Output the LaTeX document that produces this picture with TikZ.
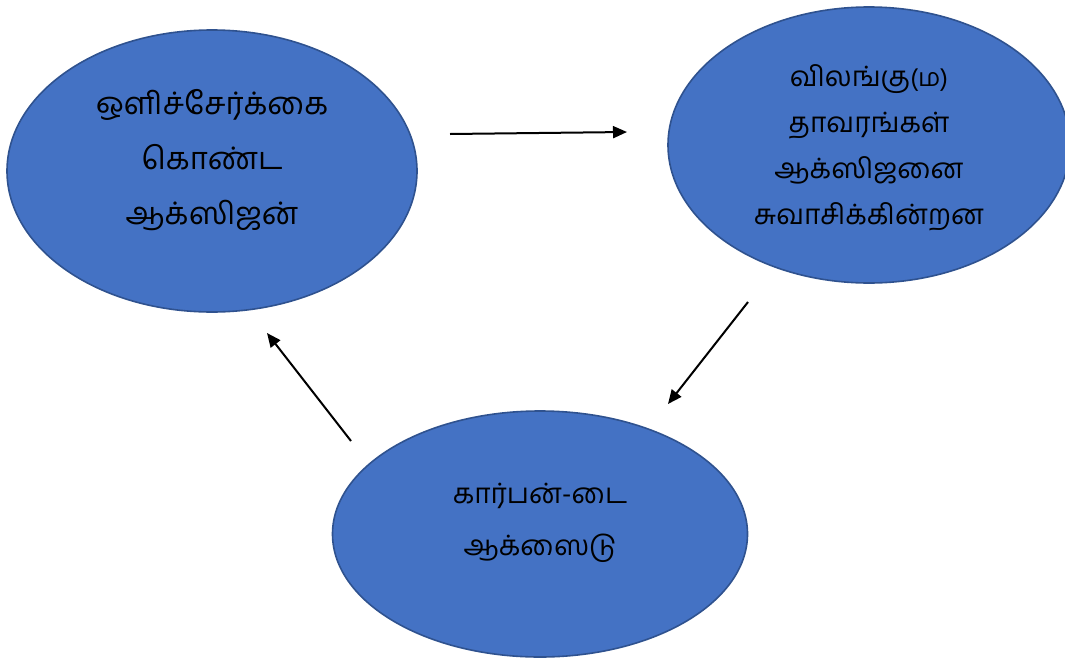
\documentclass[tikz,border=0pt]{standalone}
\usepackage{fontspec}
\newfontfamily\tamil[Script=Tamil]{Hind Madurai}
\usetikzlibrary{shapes.geometric,arrows.meta}
\definecolor{blobfill}{HTML}{4472C4}
\definecolor{blobedge}{HTML}{2F528F}
\tikzset{
  blob/.style={ellipse, draw=blobedge, line width=1.6pt, fill=blobfill, inner sep=0pt},
  label/.style 2 args={font=\tamil\fontsize{#1}{#2}\selectfont, align=center, text=black, inner sep=0pt},
  flow/.style={-{Triangle[length=14pt,width=12pt]}, line width=2pt, black}
}
\begin{document}
\begin{tikzpicture}[x=1pt,y=-1pt]
  \useasboundingbox (0,0) rectangle (1065,659);
  % the three stages of the cycle
  \node[blob, minimum width=410pt, minimum height=282pt] (photo) at (212,171) {};
  \node[blob, minimum width=402pt, minimum height=276pt] (breath) at (869,145) {};
  \node[blob, minimum width=415pt, minimum height=246pt] (co2) at (540,534) {};
  % texts inside them
  \node[label={31}{55pt}] (photoText) at (212,160) {ஒளிச்சேர்க்கை\\கொண்ட\\ஆக்ஸிஜன்};
  \node[label={28}{46pt}] (breathText) at (869,148) {விலங்கு{\fontsize{25}{25}\selectfont(ம)}\\தாவரங்கள்\\ஆக்ஸிஜனை\\சுவாசிக்கின்றன};
  \node[label={28}{52pt}] (co2Text) at (540,523) {கார்பன்-டை\\ஆக்ஸைடு};
  % arrow ends
  \coordinate (a1s) at (450,134);
  \coordinate (a1e) at (627,132);
  \coordinate (a2s) at (748,302);
  \coordinate (a2e) at (668,404);
  \coordinate (a3s) at (351,441);
  \coordinate (a3e) at (267,333);
  \draw[flow] (a1s) -- (a1e);
  \draw[flow] (a2s) -- (a2e);
  \draw[flow] (a3s) -- (a3e);
\end{tikzpicture}
\end{document}
